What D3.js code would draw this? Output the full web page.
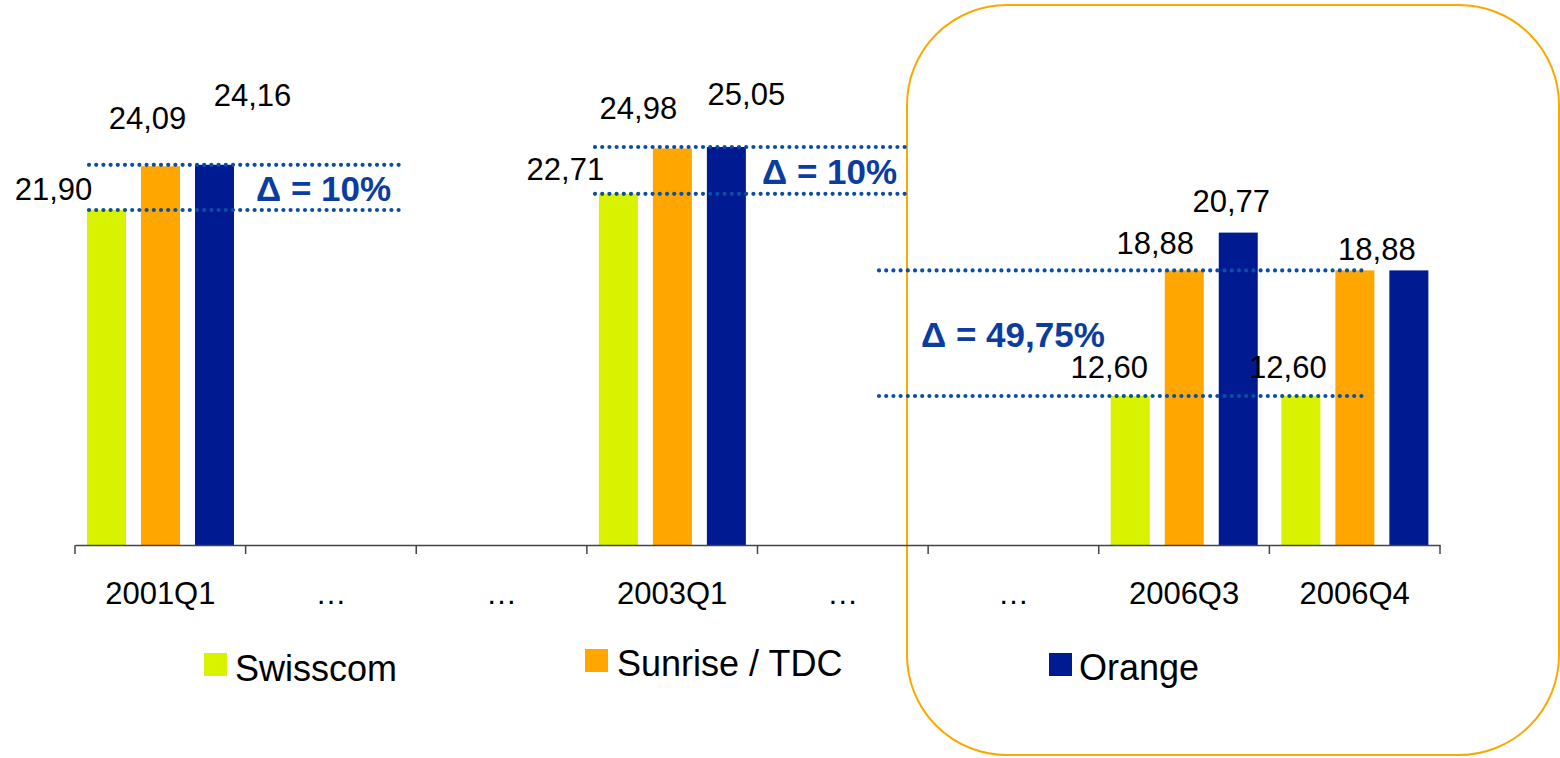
<!DOCTYPE html>
<html>
<head>
<meta charset="utf-8">
<script src="https://cdn.jsdelivr.net/npm/d3@7"></script>
<style>
  html, body { margin: 0; padding: 0; background: #fff; }
  svg { display: block; font-family: "Liberation Sans", Arial, sans-serif; }
</style>
</head>
<body>
<svg id="chart" width="1560" height="758"></svg>
<script>
// ---- data ----
const categories = ["2001Q1", "…", "…", "2003Q1", "…", "…", "2006Q3", "2006Q4"];
const seriesNames = ["Swisscom", "Sunrise / TDC", "Orange"];
const swisscom = [21.90, null, null, 22.71, null, null, 12.60, 12.60];
const sunrise  = [24.09, null, null, 24.98, null, null, 18.88, 18.88];
const orange   = [24.16, null, null, 25.05, null, null, 20.77, 18.88];
const hiddenLabels = [[7, 2]]; // [category, series] with no value label
const deltaTexts = ["Δ = 10%", "Δ = 10%", "Δ = 49,75%"];
const deltaPairs = [ // category, high series, low series
  [0, 2, 0],
  [3, 2, 0],
  [6, 1, 0]
];

// ---- styling / layout ----
const colors = ["#d8f200", "#ffa600", "#001a91"];
const dotColor = "#0b4ea6";
const deltaColor = "#0b3c9f";
const labelNudge = {
  0: [[-53, -10], [-13, -37], [38, -59]],
  3: [[-53, -14], [-34, -29], [20, -42]],
  6: [[-21, -18], [-29, -16], [-7, -21]],
  7: [[-13, -18], [22, -10], [0, 0]]
};
const deltaLayout = [
  { x0: 89, x1: 401, tx: 256 },
  { x0: 595, x1: 906, tx: 762 },
  { x0: 879, x1: 1366, tx: 921 }
];

const values = [swisscom, sunrise, orange];
const svg = d3.select("#chart");

// highlight box
svg.append("rect")
  .attr("x", 907).attr("y", 5)
  .attr("width", 652).attr("height", 750)
  .attr("rx", 100).attr("ry", 100)
  .attr("fill", "none")
  .attr("stroke", "#f7aa00")
  .attr("stroke-width", 2);

const x = d3.scaleBand().domain(d3.range(categories.length)).range([75, 1440]).padding(0);
const xs = d3.scaleBand().domain(d3.range(seriesNames.length)).range([12, 159]).paddingInner(0.2778).paddingOuter(0);
const y = d3.scaleLinear().domain([5.15, 30.15]).range([545, 45]);

// bars
const barData = [];
values.forEach((arr, s) => arr.forEach((v, c) => { if (v != null) barData.push({ c, s, v }); }));

svg.append("g").selectAll("rect").data(barData).join("rect")
  .attr("x", d => x(d.c) + xs(d.s))
  .attr("y", d => y(d.v))
  .attr("width", xs.bandwidth())
  .attr("height", d => y.range()[0] - y(d.v))
  .attr("fill", d => colors[d.s]);

// axis
const axisG = svg.append("g").attr("transform", `translate(0,${y.range()[0]})`);
axisG.call(d3.axisBottom(x).tickSize(0).tickPadding(0).tickFormat(i => categories[i]));
axisG.select(".domain").attr("stroke", "#444").attr("stroke-width", 1.5);
axisG.selectAll(".tick text")
  .attr("y", 59).attr("dy", 0)
  .attr("font-size", 31)
  .attr("font-family", "Liberation Sans, Arial, sans-serif")
  .attr("fill", "#000");
const edges = d3.range(categories.length).map(i => x(i)).concat([x.range()[1]]);
axisG.selectAll("line.edge").data(edges).join("line")
  .attr("class", "edge")
  .attr("x1", d => d).attr("x2", d => d)
  .attr("y1", 0).attr("y2", 9)
  .attr("stroke", "#444").attr("stroke-width", 1.5);

// dotted delta lines
const dotsG = svg.append("g");
deltaPairs.forEach(([c, hi, lo], k) => {
  const L = deltaLayout[k];
  [values[hi][c], values[lo][c]].forEach(v => {
    dotsG.append("line")
      .attr("x1", L.x0).attr("x2", L.x1)
      .attr("y1", y(v)).attr("y2", y(v))
      .attr("stroke", dotColor)
      .attr("stroke-width", 4.2)
      .attr("stroke-linecap", "round")
      .attr("stroke-dasharray", "0 7.2");
  });
  const mid = (y(values[hi][c]) + y(values[lo][c])) / 2;
  svg.append("text")
    .attr("x", L.tx).attr("y", mid + 14)
    .attr("font-size", 35).attr("font-weight", "bold")
    .attr("fill", deltaColor)
    .text(deltaTexts[k]);
});

// value labels
const fmt = v => v.toFixed(2).replace(".", ",");
const isHidden = d => hiddenLabels.some(([c, s]) => c === d.c && s === d.s);
svg.append("g").selectAll("text").data(barData.filter(d => !isHidden(d))).join("text")
  .attr("x", d => x(d.c) + xs(d.s) + xs.bandwidth() / 2 + labelNudge[d.c][d.s][0])
  .attr("y", d => y(d.v) + labelNudge[d.c][d.s][1])
  .attr("text-anchor", "middle")
  .attr("font-size", 31)
  .attr("fill", "#000")
  .text(d => fmt(d.v));

// legend
const legendPos = [
  { sx: 204, sy: 653, tx: 235, ty: 681 },
  { sx: 585, sy: 649, tx: 617, ty: 676 },
  { sx: 1049, sy: 653, tx: 1079, ty: 680 }
];
const lg = svg.append("g");
seriesNames.forEach((n, i) => {
  const p = legendPos[i];
  lg.append("rect").attr("x", p.sx).attr("y", p.sy).attr("width", 23).attr("height", 23).attr("fill", colors[i]);
  lg.append("text").attr("x", p.tx).attr("y", p.ty).attr("font-size", 36).attr("fill", "#000").text(n);
});
</script>
</body>
</html>
